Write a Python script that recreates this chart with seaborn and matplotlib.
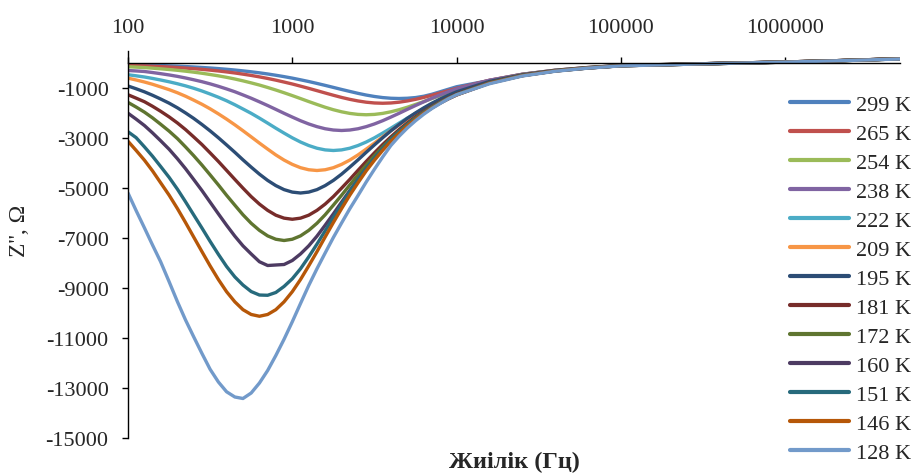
#!/usr/bin/env python3
"""
Imaginary impedance Z'' vs frequency for several temperatures (Excel-style chart).
"""

import pandas as pd
import matplotlib
matplotlib.use("Agg")
import matplotlib.pyplot as plt
from matplotlib.ticker import NullLocator, FixedLocator, FixedFormatter
import seaborn as sns

# Frequency grid (Hz)
freq = [100, 112, 126, 141, 158, 178, 200, 224, 251, 282,
        316, 355, 398, 447, 501, 562, 631, 708, 794, 891,
        1000, 1122, 1259, 1413, 1585, 1778, 1995, 2239, 2512, 2818,
        3162, 3548, 3981, 4467, 5012, 5623, 6310, 7079, 7943, 8913,
        10000, 15849, 25119, 39811, 63096, 100000, 316228, 1000000, 1995262, 5000000]

temps = ["299 K", "265 K", "254 K", "238 K", "222 K", "209 K", "195 K",
         "181 K", "172 K", "160 K", "151 K", "146 K", "128 K"]

# Z'' values (Ohm), one list per temperature
z_299 = [-64, -71, -80, -89, -101, -114, -126, -142, -159, -179,
         -200, -224, -251, -281, -315, -352, -393, -439, -490, -545,
         -605, -672, -741, -817, -895, -976, -1058, -1137, -1214, -1282,
         -1339, -1383, -1410, -1420, -1410, -1383, -1330, -1250, -1150, -1050,
         -950, -700, -450, -290, -180, -100, -30, 40, 90, 170]
z_265 = [-100, -107, -114, -129, -143, -161, -180, -203, -227, -254,
         -285, -319, -357, -399, -446, -497, -555, -618, -686, -762,
         -840, -926, -1014, -1106, -1199, -1290, -1377, -1454, -1518, -1568,
         -1599, -1610, -1599, -1568, -1518, -1454, -1377, -1290, -1199, -1106,
         -1014, -690, -450, -290, -180, -100, -30, 40, 90, 170]
z_254 = [-150, -166, -184, -207, -232, -261, -292, -327, -366, -410,
         -460, -513, -573, -640, -714, -795, -882, -979, -1081, -1190,
         -1304, -1422, -1542, -1658, -1770, -1869, -1952, -2016, -2056, -2070,
         -2056, -2016, -1952, -1869, -1770, -1658, -1542, -1422, -1304, -1190,
         -1081, -710, -460, -295, -185, -100, -30, 40, 90, 170]
z_238 = [-300, -318, -340, -381, -427, -478, -535, -599, -670, -748,
         -834, -932, -1037, -1150, -1277, -1409, -1553, -1701, -1855, -2012,
         -2163, -2309, -2438, -2546, -2630, -2681, -2700, -2681, -2630, -2546,
         -2438, -2309, -2163, -2012, -1855, -1701, -1553, -1409, -1277, -1150,
         -1037, -690, -455, -295, -185, -100, -30, 40, 90, 170]
z_222 = [-470, -512, -560, -617, -680, -752, -830, -915, -1010, -1120,
         -1240, -1370, -1510, -1670, -1840, -2013, -2205, -2405, -2608, -2804,
         -2993, -3161, -3301, -3409, -3476, -3500, -3476, -3409, -3301, -3161,
         -2993, -2804, -2608, -2405, -2205, -2013, -1827, -1656, -1491, -1344,
         -1208, -760, -480, -305, -190, -105, -30, 40, 90, 170]
z_209 = [-606, -679, -761, -851, -955, -1066, -1191, -1329, -1484, -1651,
         -1832, -2034, -2245, -2473, -2709, -2954, -3204, -3444, -3677, -3883,
         -4055, -4188, -4270, -4300, -4270, -4188, -4055, -3883, -3677, -3444,
         -3204, -2954, -2709, -2473, -2245, -2034, -1832, -1651, -1484, -1329,
         -1191, -750, -475, -305, -190, -105, -30, 40, 90, 170]
z_195 = [-920, -1030, -1154, -1290, -1440, -1607, -1794, -1997, -2215, -2460,
         -2714, -2990, -3276, -3572, -3874, -4165, -4446, -4696, -4904, -5065,
         -5164, -5200, -5164, -5065, -4904, -4696, -4446, -4165, -3874, -3572,
         -3276, -2990, -2714, -2460, -2215, -1997, -1794, -1607, -1440, -1290,
         -1154, -735, -470, -300, -190, -105, -30, 40, 90, 170]
z_181 = [-1270, -1405, -1550, -1731, -1931, -2156, -2400, -2663, -2956, -3263,
         -3594, -3938, -4294, -4656, -5006, -5344, -5644, -5894, -6088, -6206,
         -6250, -6206, -6088, -5894, -5644, -5344, -5006, -4656, -4294, -3938,
         -3594, -3263, -2956, -2663, -2400, -2156, -1931, -1731, -1550, -1388,
         -1238, -780, -490, -310, -195, -110, -30, 40, 90, 170]
z_172 = [-1576, -1761, -1967, -2194, -2450, -2726, -3025, -3358, -3706, -4083,
         -4473, -4878, -5290, -5687, -6071, -6411, -6695, -6915, -7050, -7100,
         -7050, -6915, -6695, -6411, -6071, -5687, -5290, -4878, -4473, -4083,
         -3706, -3358, -3025, -2726, -2450, -2194, -1967, -1761, -1576, -1406,
         -1257, -790, -495, -315, -195, -110, -35, 35, 85, 165]
z_160 = [-2009, -2244, -2503, -2795, -3110, -3451, -3831, -4228, -4658, -5103,
         -5565, -6035, -6488, -6926, -7314, -7638, -7950, -8100, -8080, -8060,
         -7900, -7638, -7314, -6926, -6488, -6035, -5565, -5103, -4658, -4228,
         -3831, -3451, -3110, -2795, -2503, -2244, -2009, -1798, -1604, -1434,
         -1280, -800, -505, -320, -200, -110, -35, 35, 85, 165]
z_151 = [-2750, -2985, -3357, -3729, -4139, -4576, -5050, -5552, -6073, -6603,
         -7133, -7654, -8138, -8556, -8882, -9142, -9281, -9291, -9179, -8937,
         -8630, -8231, -7756, -7245, -6715, -6175, -5654, -5143, -4659, -4222,
         -3804, -3422, -3050, -2744, -2465, -2213, -1972, -1767, -1572, -1414,
         -1265, -800, -505, -320, -200, -110, -35, 35, 85, 165]
z_146 = [-3130, -3495, -3890, -4315, -4791, -5288, -5825, -6382, -6959, -7547,
         -8114, -8661, -9147, -9553, -9867, -10059, -10130, -10059, -9867, -9553,
         -9147, -8661, -8114, -7547, -6959, -6382, -5825, -5288, -4791, -4315,
         -3890, -3495, -3130, -2806, -2512, -2249, -2006, -1793, -1601, -1428,
         -1276, -810, -510, -320, -200, -110, -35, 35, 85, 165]
z_128 = [-5200, -5900, -6600, -7280, -7950, -8750, -9550, -10280, -10950, -11620,
         -12250, -12760, -13150, -13360, -13420, -13200, -12800, -12300, -11700, -11050,
         -10350, -9620, -8900, -8230, -7600, -6980, -6400, -5830, -5300, -4760,
         -4250, -3760, -3300, -2930, -2600, -2310, -2050, -1820, -1620, -1430,
         -1270, -830, -520, -330, -205, -115, -35, 35, 85, 160]

series = [z_299, z_265, z_254, z_238, z_222, z_209, z_195,
          z_181, z_172, z_160, z_151, z_146, z_128]

colors = ["#4F81BD", "#C0504D", "#9BBB59", "#8064A2", "#4BACC6", "#F79646", "#2C4D75",
          "#772C2A", "#5F7530", "#4D3B62", "#276A7C", "#B65708", "#729ACA"]

x_ticks = [100, 1000, 10000, 100000, 1000000]
y_ticks = [-1000, -3000, -5000, -7000, -9000, -11000, -13000, -15000]

# Long-form table for seaborn
frames = []
for t, z in zip(temps, series):
    frames.append(pd.DataFrame({"f": freq, "z": z, "T": t}))
df = pd.concat(frames, ignore_index=True)

sns.set_theme(style="white")
plt.rcParams["font.family"] = ["Liberation Serif", "DejaVu Serif"]
plt.rcParams["font.size"] = 16

fig = plt.figure(figsize=(9.2, 4.77), dpi=100)
ax = fig.add_axes([128 / 920, 1 - 439 / 477, (900 - 128) / 920, (439 - 52) / 477])

sns.lineplot(data=df, x="f", y="z", hue="T", hue_order=temps, palette=colors,
             linewidth=2.4, ax=ax, legend=True)

ax.set_xscale("log")
ax.set_xlim(100, 5000000)
ax.set_ylim(-15000, 480)

# x axis sits on Z'' = 0 with labels on top
ax.xaxis.tick_top()
ax.spines["top"].set_position(("data", 0))
ax.spines["bottom"].set_visible(False)
ax.spines["right"].set_visible(False)
for s in ["top", "left"]:
    ax.spines[s].set_color("black")
    ax.spines[s].set_linewidth(1.0)

ax.xaxis.set_major_locator(FixedLocator(x_ticks))
ax.xaxis.set_major_formatter(FixedFormatter([str(v) for v in x_ticks]))
ax.xaxis.set_minor_locator(NullLocator())
ax.set_yticks(y_ticks)
ax.set_yticklabels([str(v) for v in y_ticks])

ax.tick_params(axis="x", which="major", direction="out", length=4.5, width=1,
               color="black", pad=14, labelsize=16, top=True, bottom=False)
ax.tick_params(axis="y", which="major", direction="out", length=4, width=1,
               color="black", pad=10, labelsize=16, left=True)
ax.set_xlabel("")
ax.set_ylabel("")
ax.grid(False)

fig.text(20 / 920, 1 - 231 / 477, "Z'', Ω", rotation=90, ha="center", va="center", fontsize=17)
fig.text(514 / 920, 1 - 462 / 477, "Жиілік (Гц)", ha="center", va="center",
         fontsize=17.5, fontweight="bold")

handles, labels = ax.get_legend_handles_labels()
ax.get_legend().remove()
for h in handles:
    h.set_linewidth(3.0)
fig.legend(handles, labels, loc="upper left", bbox_to_anchor=(790 / 920, 1 - 95 / 477),
           frameon=False, fontsize=16, handlelength=2.65, handletextpad=0.3,
           labelspacing=0.38, borderpad=0, borderaxespad=0)

fig.savefig("out.png", dpi=100)
plt.close(fig)
